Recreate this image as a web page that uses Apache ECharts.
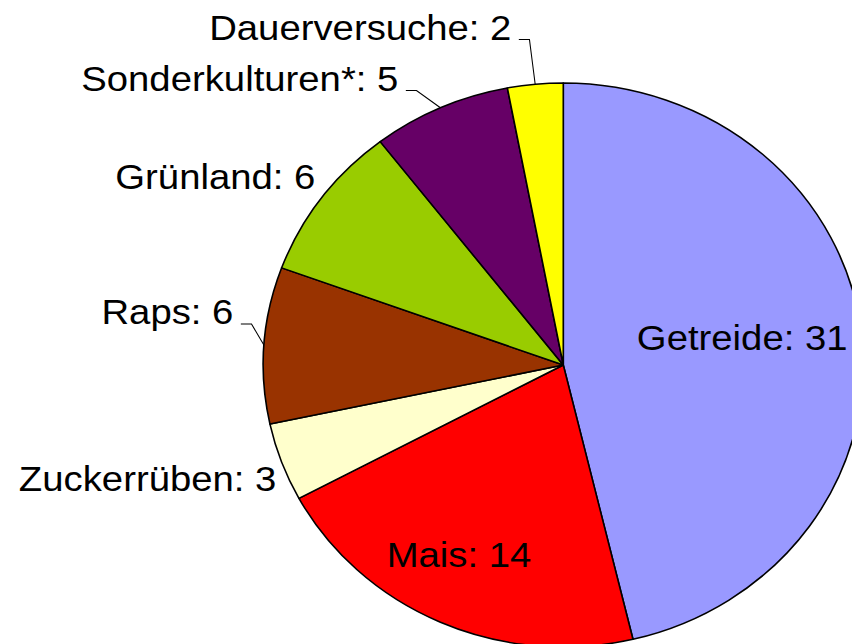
<!DOCTYPE html>
<html>
<head>
<meta charset="utf-8">
<script src="https://cdn.jsdelivr.net/npm/echarts@6/dist/echarts.min.js"></script>
<style>
html, body { margin: 0; padding: 0; background: #fff; overflow: hidden; }
/* das Original ist horizontal gestreckt (Ellipse), daher scaleX */
#main { width: 801px; height: 644px; transform: scaleX(1.0638); transform-origin: 0 0; }
</style>
</head>
<body>
<div id="main"></div>
<script>
//Kategorien
var categories = ['Getreide', 'Mais', 'Zuckerrüben', 'Raps', 'Grünland', 'Sonderkulturen*', 'Dauerversuche'];
//Anzahl
var values = [31, 14, 3, 6, 6, 5, 2];
//Farben der Segmente
var colors = ['#9999ff', '#ff0000', '#ffffcc', '#993300', '#99cc00', '#660066', '#ffff00'];

//Beschriftung: x = rechter Rand (bzw. Mitte bei innen), y = Grundlinie
var labelAnchor = [[697.7, 350], [431.5, 567], [259.8, 491], [219.4, 324], [296.5, 189], [374.5, 90.5], [480.7, 39.5]];
var isInside = [true, true, false, false, false, false, false];
var hasLeader = [false, false, false, true, false, true, true];

var mychart = echarts.init(document.getElementById('main'), null, { renderer: 'svg' });

var pieData = [];
for (var i = 0; i < categories.length; i++) {
	pieData.push({
		name: categories[i],
		value: values[i],
		itemStyle: { color: colors[i] },
		label: { position: isInside[i] ? 'inside' : 'outside' },
		labelLine: { show: hasLeader[i] }
	});
}

var option = {
	animation: false,
	backgroundColor: '#ffffff',
	series: [{
		type: 'pie',
		center: [529.5, 365],
		radius: 282,
		startAngle: 90,
		clockwise: true,
		avoidLabelOverlap: false,
		silent: true,
		itemStyle: {
			borderColor: '#000000',
			borderWidth: 1.5
		},
		label: {
			show: true,
			formatter: '{b}: {c}',
			color: '#000000',
			fontFamily: 'Liberation Sans, Arial, sans-serif',
			fontSize: 36
		},
		labelLine: {
			show: true,
			length: 10,
			length2: 10,
			lineStyle: { color: '#000000', width: 1 }
		},
		labelLayout: function (params) {
			var i = params.dataIndex;
			var a = labelAnchor[i];
			var out = {
				x: a[0],
				y: a[1] - 12.5,
				align: isInside[i] ? 'center' : 'right',
				verticalAlign: 'middle'
			};
			if (hasLeader[i] && params.labelLinePoints) {
				var edge = params.labelLinePoints[0];
				out.labelLinePoints = [edge, [a[0] + 17, a[1]], [a[0] + 7, a[1]]];
			}
			return out;
		},
		data: pieData
	}]
};
mychart.setOption(option);
</script>
</body>
</html>
